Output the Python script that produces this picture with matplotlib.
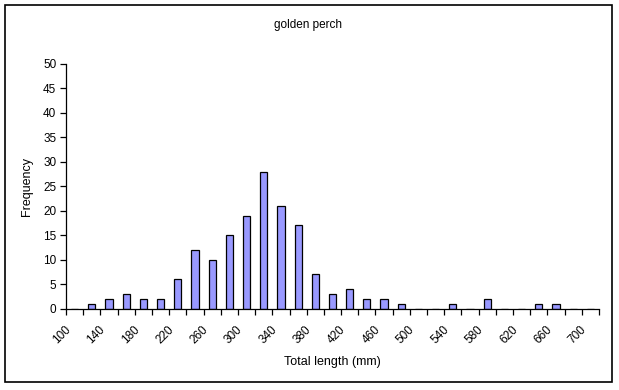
import matplotlib
matplotlib.use("Agg")
import matplotlib.pyplot as plt
from matplotlib.patches import Rectangle
from matplotlib.transforms import ScaledTranslation
import numpy as np

plt.rcParams['font.family'] = ['Liberation Sans', 'DejaVu Sans']

lengths = list(range(100, 701, 20))
freq = [0, 1, 2, 3, 2, 2, 6, 12, 10, 15, 19, 28, 21, 17, 7, 3, 4, 2, 2, 1,
        0, 0, 1, 0, 2, 0, 0, 1, 1, 0, 0]
tick_labels = [str(v) for v in lengths]

W, H = 619, 390
fig = plt.figure(figsize=(W / 100, H / 100), dpi=100)
ax = fig.add_axes([66 / W, 1 - 308.5 / H, (599 - 66) / W, (308.5 - 64) / H])

x = np.arange(len(lengths))
ax.bar(x, freq, width=0.42, color='#9999FF', edgecolor='black', linewidth=0.9)

ax.set_xlim(-0.5, len(lengths) - 0.5)
ax.set_ylim(0, 50)
ax.set_yticks(range(0, 51, 5))
ax.tick_params(axis='y', direction='out', length=4, width=0.9, labelsize=8.5, pad=3)

# boundary ticks (major, no labels) and centred labels (minor)
ax.set_xticks(np.arange(-0.5, len(lengths), 1.0))
ax.set_xticklabels([])
ax.tick_params(axis='x', which='major', direction='out', length=4, width=0.9)
ax.set_xticks(x[::2], minor=True)
ax.set_xticklabels(tick_labels[::2], minor=True, rotation=45, ha='right',
                   va='top', rotation_mode='anchor', fontsize=8.5)
ax.tick_params(axis='x', which='minor', length=0, pad=8)
offset = ScaledTranslation(-10 / 100, -4 / 100, fig.dpi_scale_trans)
for lbl in ax.get_xticklabels(minor=True):
    lbl.set_transform(lbl.get_transform() + offset)

for s in ['top', 'right']:
    ax.spines[s].set_visible(False)
for s in ['left', 'bottom']:
    ax.spines[s].set_linewidth(0.9)

ax.set_xlabel('Total length (mm)', fontsize=9, labelpad=7)
ax.set_ylabel('Frequency', fontsize=9, labelpad=7)
fig.text(308 / W, 1 - 25 / H, 'golden perch',
         ha='center', va='center', fontsize=8.5)

fig.patches.append(Rectangle((5 / W, 1 - 382 / H), (612 - 5) / W, (382 - 5) / H,
                             transform=fig.transFigure, fill=False,
                             edgecolor='black', linewidth=1.2))

fig.savefig('out.png', dpi=100)
